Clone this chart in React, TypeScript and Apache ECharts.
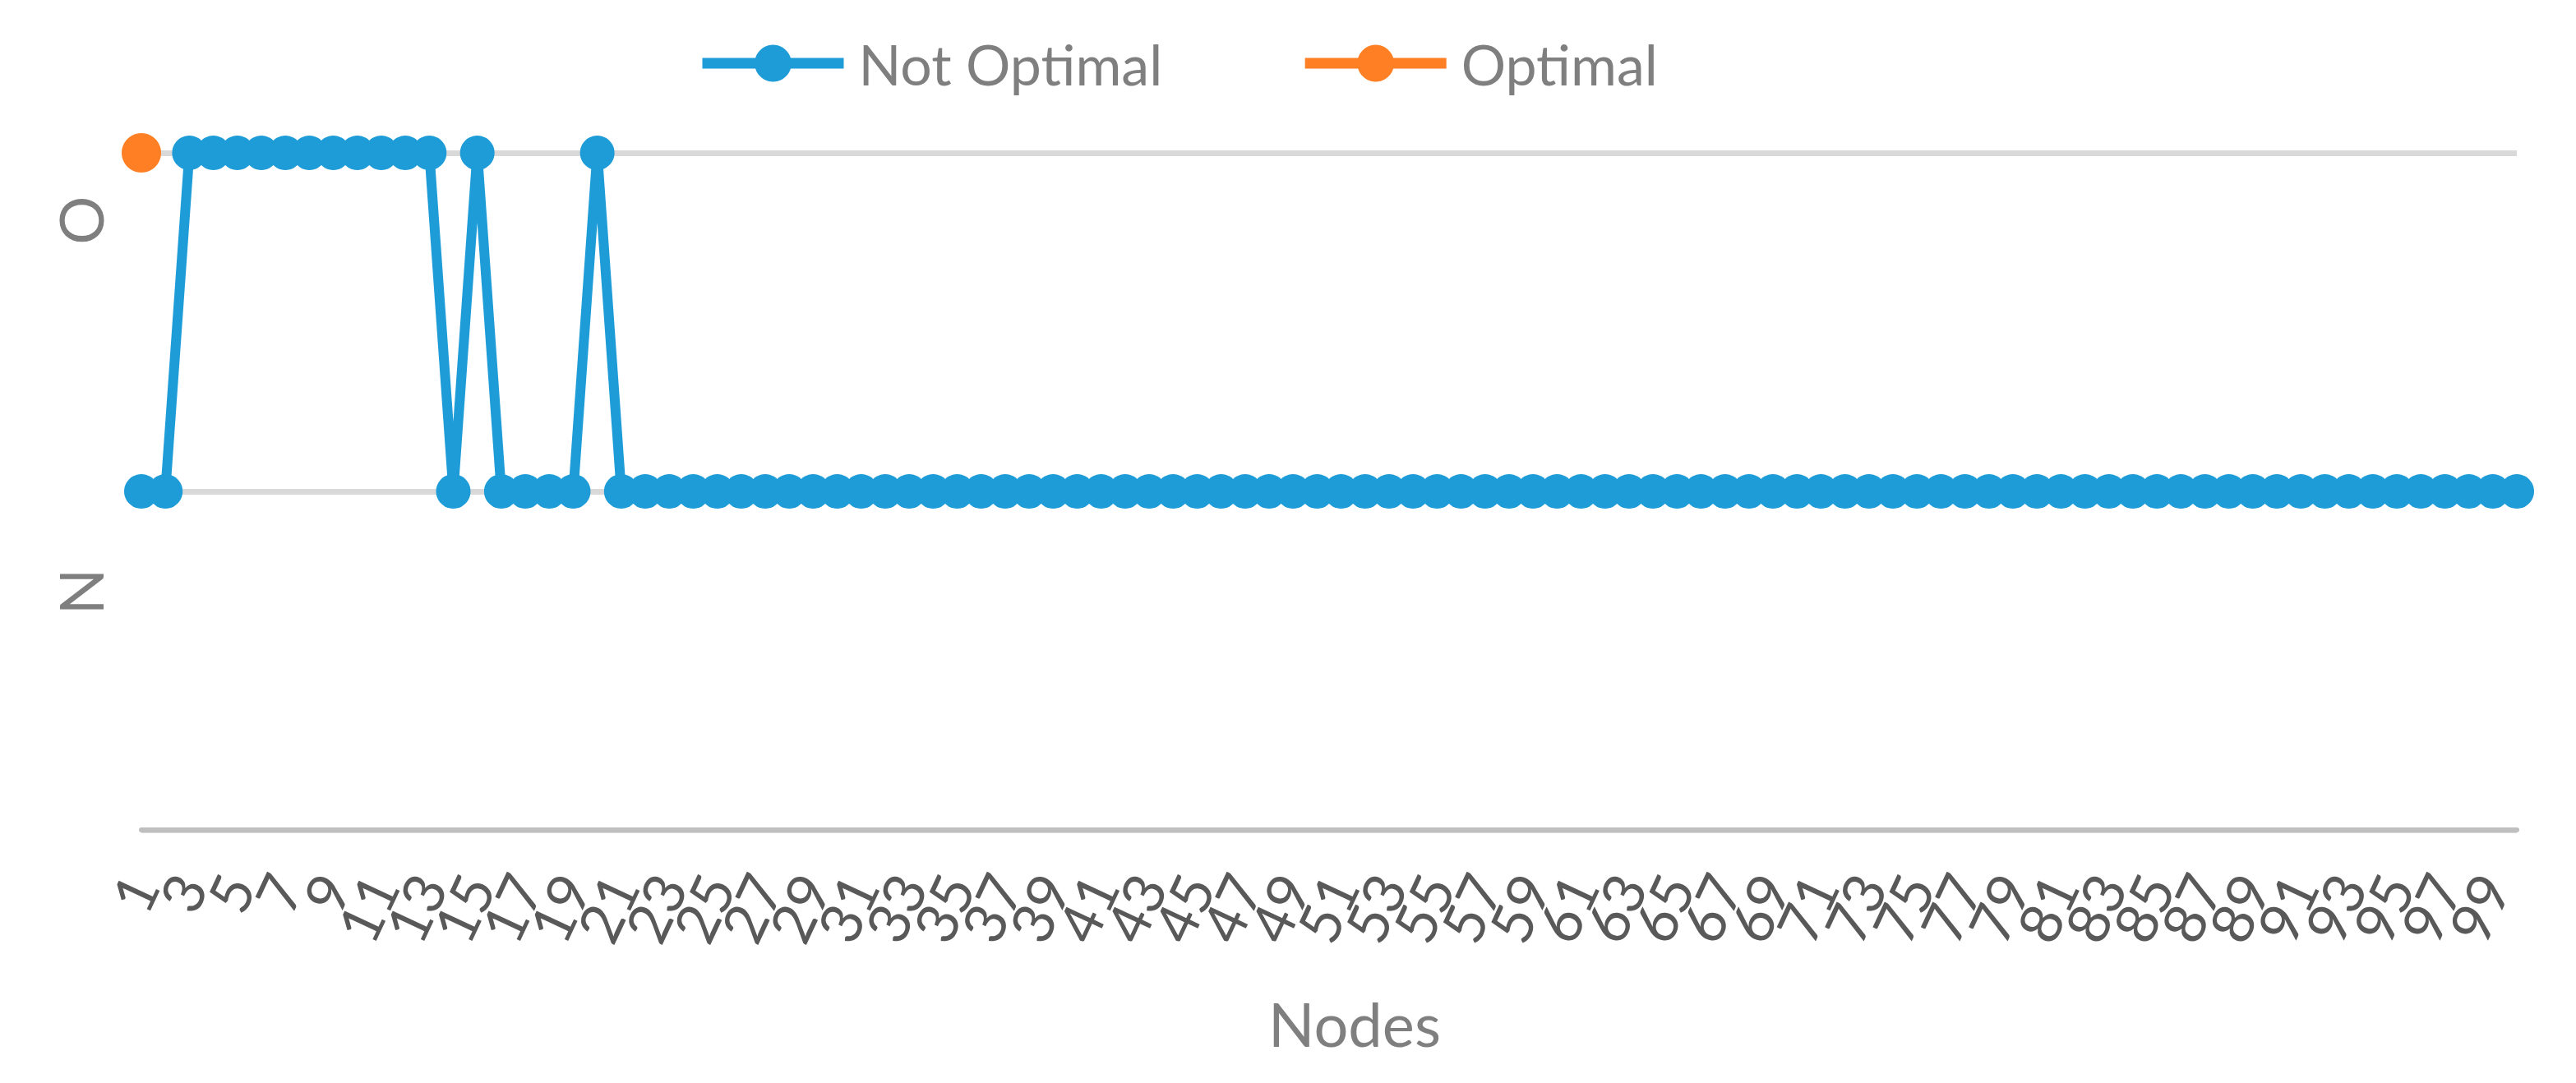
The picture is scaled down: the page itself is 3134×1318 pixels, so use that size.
import React, { useEffect, useRef } from "react";
import * as echarts from "echarts";

// Categories: node numbers 1..100
const nodes: string[] = [
  "1","2","3","4","5","6","7","8","9","10",
  "11","12","13","14","15","16","17","18","19","20",
  "21","22","23","24","25","26","27","28","29","30",
  "31","32","33","34","35","36","37","38","39","40",
  "41","42","43","44","45","46","47","48","49","50",
  "51","52","53","54","55","56","57","58","59","60",
  "61","62","63","64","65","66","67","68","69","70",
  "71","72","73","74","75","76","77","78","79","80",
  "81","82","83","84","85","86","87","88","89","90",
  "91","92","93","94","95","96","97","98","99","100",
];

// State levels on the vertical axis (bottom to top)
const yLevels: string[] = ["N", "O"];
const levelValue: Record<string, number> = { N: 1, O: 2 };

// Not Optimal series: state per node
const notOptimal: string[] = [
  "N","N","O","O","O","O","O","O","O","O",
  "O","O","O","N","O","N","N","N","N","O",
  "N","N","N","N","N","N","N","N","N","N",
  "N","N","N","N","N","N","N","N","N","N",
  "N","N","N","N","N","N","N","N","N","N",
  "N","N","N","N","N","N","N","N","N","N",
  "N","N","N","N","N","N","N","N","N","N",
  "N","N","N","N","N","N","N","N","N","N",
  "N","N","N","N","N","N","N","N","N","N",
  "N","N","N","N","N","N","N","N","N","N",
];

// Optimal series: only node 1
const optimal: (string | null)[] = ["O"];

const BLUE = "#1e9cd8";
const ORANGE = "#fe7f24";

export default function App() {
  const ref = useRef<HTMLDivElement | null>(null);

  useEffect(() => {
    if (!ref.current) return;
    const chart = echarts.init(ref.current, undefined, { renderer: "svg" });
    const option: any = {
      animation: false,
      backgroundColor: "#ffffff",
      grid: { left: 172, right: 72, top: 186, bottom: 308, containLabel: false },
      legend: {
        data: ["Not Optimal", "Optimal"],
        left: 843,
        top: 38,
        itemWidth: 172,
        itemHeight: 56,
        itemGap: 167,
        textStyle: {
          fontFamily: "Lato",
          fontSize: 68,
          color: "#7f7f7f",
          padding: [0, 0, 0, 13],
        },
        lineStyle: { width: 13 },
      },
      xAxis: {
        type: "category",
        data: nodes,
        boundaryGap: false,
        axisLine: { show: true, lineStyle: { color: "#bfbfbf", width: 6 } },
        axisTick: { show: false },
        axisLabel: {
          interval: 0,
          formatter: (v: string, i: number) => (i % 2 === 0 ? v : ""),
          rotate: 65,
          margin: 58,
          fontFamily: "Lato",
          fontSize: 70,
          color: "#595959",
        },
        splitLine: { show: false },
      },
      yAxis: {
        type: "value",
        min: 0,
        max: 2,
        interval: 1,
        axisLine: { show: false },
        axisTick: { show: false },
        axisLabel: { show: false },
        splitLine: { show: true, lineStyle: { color: "#d9d9d9", width: 7 } },
      },
      series: [
        {
          name: "Not Optimal",
          type: "line",
          data: notOptimal.map((s) => levelValue[s]),
          symbol: "circle",
          symbolSize: 42,
          showAllSymbol: true,
          lineStyle: { color: BLUE, width: 12 },
          itemStyle: { color: BLUE },
          z: 3,
        },
        {
          name: "Optimal",
          type: "line",
          data: optimal.map((s) => (s == null ? null : levelValue[s])),
          symbol: "circle",
          symbolSize: 48,
          showAllSymbol: true,
          lineStyle: { color: ORANGE, width: 12 },
          itemStyle: { color: ORANGE },
          z: 4,
        },
      ],
      graphic: [
        {
          type: "text",
          x: 97,
          y: 268,
          rotation: Math.PI / 2,
          style: {
            text: yLevels[1],
            fontFamily: "Lato",
            fontSize: 74,
            fill: "#7f7f7f",
            textAlign: "center",
            textVerticalAlign: "middle",
          },
        },
        {
          type: "text",
          x: 97,
          y: 720,
          rotation: Math.PI / 2,
          style: {
            text: yLevels[0],
            fontFamily: "Lato",
            fontSize: 74,
            fill: "#7f7f7f",
            textAlign: "center",
            textVerticalAlign: "middle",
          },
        },
        {
          type: "text",
          x: 1648,
          y: 1245,
          style: {
            text: "Nodes",
            fontFamily: "Lato",
            fontSize: 74,
            fill: "#7f7f7f",
            textAlign: "center",
            textVerticalAlign: "middle",
          },
        },
      ],
    };
    chart.setOption(option);
    return () => {
      chart.dispose();
    };
  }, []);

  return (
    <div
      ref={ref}
      style={{
        position: "absolute",
        left: 0,
        top: 0,
        width: 3134,
        height: 1318,
        background: "#ffffff",
      }}
    />
  );
}
